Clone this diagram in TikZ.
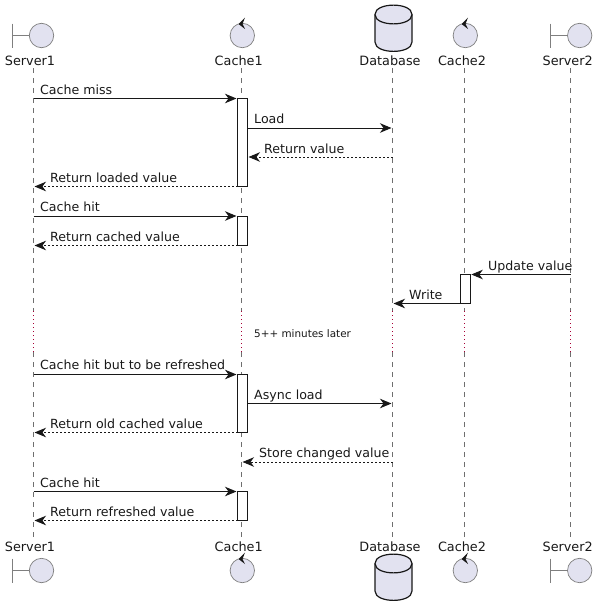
\documentclass[tikz,border=0pt]{standalone}
\usepackage{fontspec}
\setmainfont{DejaVu Sans}
\usetikzlibrary{arrows.meta}
\definecolor{IconFill}{HTML}{E2E2F0}
\definecolor{IconLine}{HTML}{7F7F7F}
\definecolor{LifeLine}{HTML}{6F6F6F}
\definecolor{GapLine}{HTML}{A80036}
\definecolor{TextInk}{HTML}{181818}
\tikzset{
  lifedash/.style={LifeLine,line width=0.6pt,dash pattern=on 5pt off 5pt},
  lifegap/.style={GapLine,line width=0.9pt,dash pattern=on 1pt off 3pt},
  icon/.style={draw=IconLine,fill=IconFill,line width=0.7pt},
  activation/.style={draw=TextInk,fill=white,line width=1pt,inner sep=0pt,minimum width=10pt},
  msgsolid/.style={TextInk,line width=1pt,-{Stealth[length=11.5pt,width=9.5pt,inset=3.5pt]}},
  msgdash/.style={msgsolid,dash pattern=on 2pt off 2pt},
  msglabel/.style={anchor=base west,inner sep=0pt,text=TextInk,font=\fontsize{12.6}{14}\selectfont},
  headlabel/.style={anchor=base,inner sep=0pt,text=TextInk,font=\fontsize{12.8}{16}\selectfont},
}
\begin{document}
\begin{tikzpicture}[x=1pt,y=-1pt]
  \useasboundingbox (0,0) rectangle (599,616);
  % lifelines, broken by the delay
  \foreach \name/\x in {Server1/33.5,Cache1/241.5,Database/392.5,Cache2/464.5,Server2/570.5}
  {
    \coordinate (\name top) at (\x,68);
    \coordinate (\name gapa) at (\x,311);
    \coordinate (\name gapb) at (\x,352);
    \coordinate (\name end) at (\x,537);
    \draw[lifedash] (\name top) -- (\name gapa);
    \draw[lifegap] (\name gapa) -- (\name gapb);
    \draw[lifedash] (\name gapb) -- (\name end);
  }
  % names
  \foreach \name/\x in {Server1/30,Cache1/238.7,Database/390,Cache2/462,Server2/567.7}
  {
    \node[headlabel] (\name head) at (\x,65) {\name};
    \node[headlabel] (\name foot) at (\x,551) {\name};
  }
  % icons
  \foreach \y/\dbtop in {35.5/5,570.5/554}
  {
    \foreach \xa/\xc in {12.3/41.5,550.3/579.7}
    {
      \draw[IconLine,line width=0.7pt] (\xa,\y-12) -- (\xa,\y+12);
      \draw[IconLine,line width=0.7pt] (\xa,\y) -- (\xc,\y);
      \draw[icon] (\xc,\y) circle (12.2);
    }
    \foreach \xc in {242.3,465.3}
    {
      \draw[icon] (\xc,\y) circle (12.2);
      \fill[TextInk] (\xc+2.7,\y-18) -- (\xc-3.8,\y-11.5) -- (\xc+2.7,\y-6.5) -- (\xc+0.2,\y-11.5) -- cycle;
    }
    \draw[TextInk,fill=IconFill,line width=1.2pt] (375,\dbtop+9.5) .. controls (375,\dbtop-3) and (412,\dbtop-3) .. (412,\dbtop+9.5)
      -- (412,\dbtop+37) .. controls (412,\dbtop+49.5) and (375,\dbtop+49.5) .. (375,\dbtop+37) -- cycle;
    \draw[TextInk,line width=1.2pt] (375,\dbtop+9.5) .. controls (375,\dbtop+22) and (412,\dbtop+22) .. (412,\dbtop+9.5);
  }
  % activations
  \foreach \name/\x/\ya/\yb in {actA/242.5/98.5/186.5,actB/242.5/216/245.5,actC/242.5/374.5/432.5,actD/242.5/491.5/520.5,actE/465.3/274.5/303.5}
  {
    \pgfmathsetmacro{\boxh}{\yb-\ya}
    \node[activation,minimum height=\boxh pt] (\name) at (\x,{(\ya+\yb)/2}) {};
  }
  % messages
  \foreach \i/\y/\xa/\xb/\kind/\lx/\ly/\txt in {
    1/98.5/33.5/236.5/msgsolid/40/94/{Cache miss},
    2/128/247.5/391.5/msgsolid/254/123/{Load},
    3/157/392.5/248.5/msgdash/264/153/{Return value},
    4/186.5/237.5/34.5/msgdash/50/182/{Return loaded value},
    5/216/33.5/236.5/msgsolid/40/211/{Cache hit},
    6/245.5/237.5/34.5/msgdash/50/241/{Return cached value},
    7/274.5/570.5/471.3/msgsolid/488/270/{Update value},
    8/303.5/460.3/393.5/msgsolid/409/299/{Write},
    9/374.5/33.5/236.5/msgsolid/40/369/{Cache hit but to be refreshed},
    10/403.5/247.5/391.5/msgsolid/254/399/{Async load},
    11/432.5/237.5/34.5/msgdash/50/428/{Return old cached value},
    12/462/392.5/242.5/msgdash/259/457/{Store changed value},
    13/491.5/33.5/236.5/msgsolid/40/487/{Cache hit},
    14/520.5/237.5/34.5/msgdash/50/516/{Return refreshed value}}
  {
    \coordinate (msg\i a) at (\xa,\y);
    \coordinate (msg\i b) at (\xb,\y);
    \draw[\kind] (msg\i a) -- (msg\i b);
    \node[msglabel] (txt\i) at (\lx,\ly) {\txt};
  }
  \node[msglabel,font=\fontsize{10.4}{12}\selectfont] (delay) at (254,337) {5++ minutes later};
\end{tikzpicture}
\end{document}
